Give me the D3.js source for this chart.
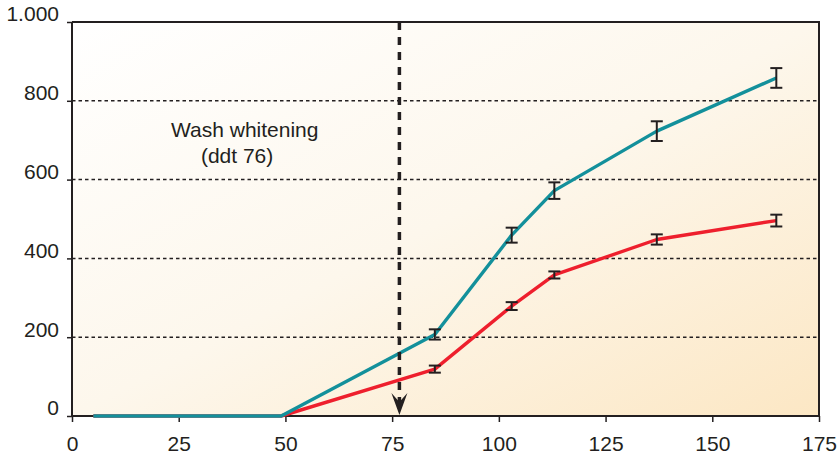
<!DOCTYPE html>
<html lang="en">
<head>
    <meta charset="UTF-8">
    <title>Wash whitening</title>
    <script src="https://d3js.org/d3.v7.min.js"></script>
    <style>
        body { margin: 0; background: #fff; }
        text { font-family: "Liberation Sans", Arial, Helvetica, sans-serif; fill: #231f20; }
    </style>
</head>
<body>
<div id="chart"></div>
<script>

    // x values (days), shared by both series
    var days = [5, 49, 85, 103, 113, 137, 165];
    var tealValues = [0, 0, 207, 459, 572, 723, 858];
    var tealErrors = [null, null, 13, 19, 21, 25, 25];
    var redValues = [0, 0, 119, 279, 358, 448, 496];
    var redErrors = [null, null, 9, 10, 9, 13, 15];

    var xTicks = [0, 25, 50, 75, 100, 125, 150, 175];
    var yTicks = [0, 200, 400, 600, 800, 1000];
    var yTickLabels = ["0", "200", "400", "600", "800", "1.000"];
    var gridValues = [200, 400, 600, 800];

    var arrowDay = 76.7;
    var noteLines = ["Wash whitening", "(ddt 76)"];

    var w = 840;
    var h = 459;
    var margin = {top: 22, right: 21, bottom: 43, left: 72};

    var svg = d3.select("#chart")
        .append("svg")
        .attr("width", w)
        .attr("height", h);

    var x = d3.scaleLinear()
        .domain([0, 175])
        .range([margin.left, w - margin.right]);

    var y = d3.scaleLinear()
        .domain([0, 1000])
        .range([h - margin.bottom, margin.top]);

    // background gradient
    var defs = svg.append("defs");
    var grad = defs.append("linearGradient")
        .attr("id", "bg")
        .attr("x1", 0).attr("y1", 0)
        .attr("x2", 1).attr("y2", 1);
    grad.append("stop").attr("offset", 0).attr("stop-color", "#ffffff");
    grad.append("stop").attr("offset", 0.5).attr("stop-color", "#fdf7ec");
    grad.append("stop").attr("offset", 1).attr("stop-color", "#fce7c4");

    svg.append("rect")
        .attr("x", x(0))
        .attr("y", y(1000))
        .attr("width", x(175) - x(0))
        .attr("height", y(0) - y(1000))
        .attr("fill", "url(#bg)");

    // dotted grid
    svg.append("g")
        .selectAll("line")
        .data(gridValues)
        .enter()
        .append("line")
        .attr("x1", x(0))
        .attr("x2", x(175))
        .attr("y1", d => y(d))
        .attr("y2", d => y(d))
        .attr("stroke", "#231f20")
        .attr("stroke-width", 1.5)
        .attr("stroke-dasharray", "3.5,3");

    // frame: top and right
    svg.append("path")
        .attr("d", "M" + x(0) + "," + y(1000) + "H" + x(175) + "V" + y(0))
        .attr("fill", "none")
        .attr("stroke", "#231f20")
        .attr("stroke-width", 2);

    // axes
    var xAxis = d3.axisBottom(x)
        .tickValues(xTicks)
        .tickSize(6)
        .tickPadding(14);
    var gx = svg.append("g")
        .attr("transform", "translate(0," + y(0) + ")")
        .call(xAxis);
    gx.select(".domain").attr("stroke", "#231f20").attr("stroke-width", 2)
        .attr("d", "M" + x(0) + ",0H" + x(175));
    gx.selectAll(".tick line").attr("stroke", "#231f20").attr("stroke-width", 1.5);
    gx.selectAll(".tick text").style("font-size", "21px").attr("fill", "#231f20");

    var yAxis = d3.axisLeft(y)
        .tickValues(yTicks)
        .tickFormat((d, i) => yTickLabels[i])
        .tickSize(5)
        .tickPadding(8);
    var gy = svg.append("g")
        .attr("transform", "translate(" + x(0) + ",0)")
        .call(yAxis);
    gy.select(".domain").attr("stroke", "#231f20").attr("stroke-width", 2)
        .attr("d", "M0," + y(0) + "V" + y(1000));
    gy.selectAll(".tick line").attr("stroke", "#231f20").attr("stroke-width", 1.5);
    gy.selectAll(".tick text").style("font-size", "21px").attr("fill", "#231f20")
        .attr("dy", "-0.05em");

    // series
    var line = d3.line()
        .x(d => x(d.day))
        .y(d => y(d.value));

    function makeSeries(values, errors) {
        return days.map((d, i) => ({day: d, value: values[i], err: errors[i]}));
    }

    var series = [
        {name: "red", color: "#ee1f2d", data: makeSeries(redValues, redErrors)},
        {name: "teal", color: "#13909b", data: makeSeries(tealValues, tealErrors)}
    ];

    series.forEach(function (s) {
        svg.append("path")
            .datum(s.data)
            .attr("d", line)
            .attr("fill", "none")
            .attr("stroke", s.color)
            .attr("stroke-width", 3.4)
            .attr("stroke-linejoin", "round");
    });

    // error bars
    series.forEach(function (s) {
        var bars = svg.append("g")
            .selectAll("g")
            .data(s.data.filter(d => d.err != null))
            .enter()
            .append("g")
            .attr("stroke", "#231f20")
            .attr("stroke-width", 2);
        bars.append("line")
            .attr("x1", d => x(d.day)).attr("x2", d => x(d.day))
            .attr("y1", d => y(d.value + d.err)).attr("y2", d => y(d.value - d.err));
        bars.append("line")
            .attr("x1", d => x(d.day) - 6).attr("x2", d => x(d.day) + 6)
            .attr("y1", d => y(d.value + d.err)).attr("y2", d => y(d.value + d.err));
        bars.append("line")
            .attr("x1", d => x(d.day) - 6).attr("x2", d => x(d.day) + 6)
            .attr("y1", d => y(d.value - d.err)).attr("y2", d => y(d.value - d.err));
    });

    // dashed arrow
    var ax = x(arrowDay);
    svg.append("line")
        .attr("x1", ax).attr("x2", ax)
        .attr("y1", y(1000)).attr("y2", y(0) - 14)
        .attr("stroke", "#231f20")
        .attr("stroke-width", 3.5)
        .attr("stroke-dasharray", "8,7");
    svg.append("path")
        .attr("d", "M" + ax + "," + (y(0) - 1) + "L" + (ax - 8) + "," + (y(0) - 23) +
            "L" + ax + "," + (y(0) - 14) + "L" + (ax + 8) + "," + (y(0) - 23) + "Z")
        .attr("fill", "#231f20");

    // annotation
    svg.append("text")
        .attr("x", x(23.2))
        .attr("y", y(708))
        .style("font-size", "21px")
        .text(noteLines[0]);
    svg.append("text")
        .attr("x", x(30.2))
        .attr("y", y(643))
        .style("font-size", "21px")
        .text(noteLines[1]);

</script>
</body>
</html>
